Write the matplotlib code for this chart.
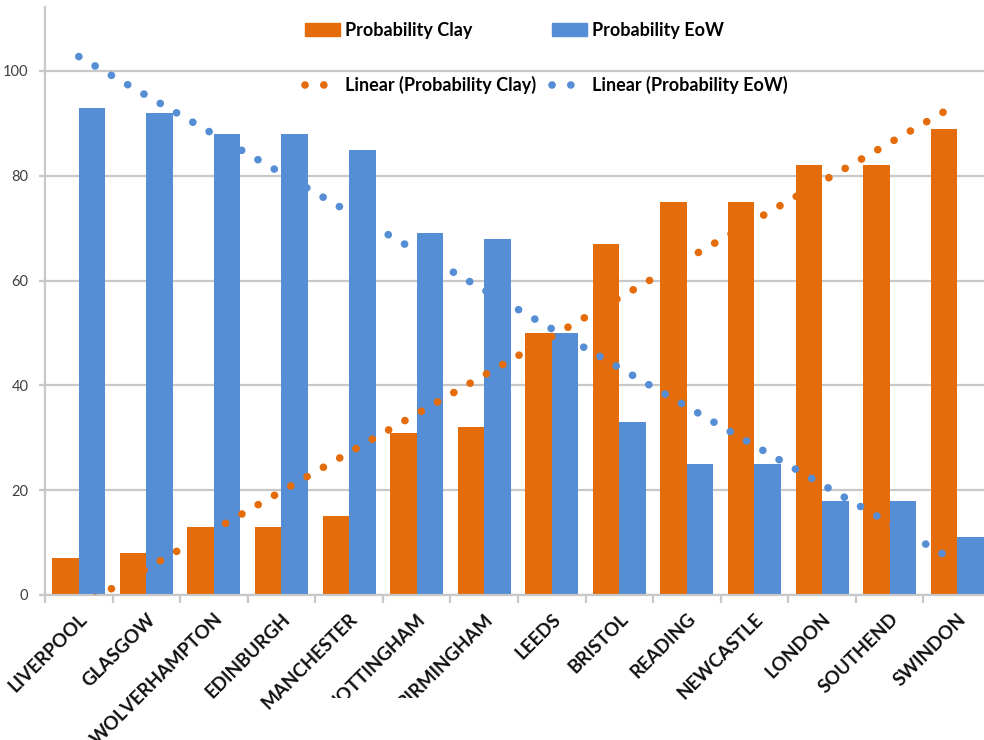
import numpy as np
import matplotlib
matplotlib.use("Agg")
import matplotlib.pyplot as plt
from matplotlib.patches import Patch
from matplotlib.lines import Line2D
from matplotlib.transforms import Bbox, TransformedBbox

# Probability per city
cities = ["LIVERPOOL", "GLASGOW", "WOLVERHAMPTON", "EDINBURGH", "MANCHESTER",
          "NOTTINGHAM", "BIRMINGHAM", "LEEDS", "BRISTOL", "READING",
          "NEWCASTLE", "LONDON", "SOUTHEND", "SWINDON"]
prob_clay = [7, 8, 13, 13, 15, 31, 32, 50, 67, 75, 75, 82, 82, 89]
prob_eow = [93, 92, 88, 88, 85, 69, 68, 50, 33, 25, 25, 18, 18, 11]

orange = "#E46C0A"
blue = "#558ED5"
grid_col = "#C8C8C8"

plt.rcParams["font.family"] = ["Lato", "DejaVu Sans"]

fig = plt.figure(figsize=(9.84, 7.40), dpi=100)
ax = fig.add_axes([45 / 984, 145 / 740, 946 / 984, 588 / 740])

x = np.arange(1, len(cities) + 1)
w = 0.392
ax.bar(x - w / 2, prob_clay, width=w, color=orange, zorder=2)
ax.bar(x + w / 2, prob_eow, width=w, color=blue, zorder=2)

# linear trendlines over the category range
dots = (0, (0.01, 2.45))
for vals, col in [(prob_clay, orange), (prob_eow, blue)]:
    k, b = np.polyfit(x, vals, 1)
    xs = np.array([1, len(cities)])
    ax.plot(xs, k * xs + b, color=col, lw=5.5, linestyle=dots,
            dash_capstyle="round", zorder=3)

ax.set_xlim(0.5, len(cities) + 0.5)
ax.set_ylim(0, 112.2)
ax.set_yticks(range(0, 101, 20))
ax.yaxis.grid(True, color=grid_col, lw=1.6, zorder=0)
ax.set_axisbelow(True)

for s in ["top", "right"]:
    ax.spines[s].set_visible(False)
for s in ["left", "bottom"]:
    ax.spines[s].set_color(grid_col)
    ax.spines[s].set_linewidth(1.6)

# ticks at category boundaries, labels at centres
ax.set_xticks(np.arange(0.5, len(cities) + 1, 1.0))
ax.set_xticklabels([])
ax.set_xticks(x, minor=True)
ax.set_xticklabels(cities, minor=True, rotation=45, ha="right", va="top",
                   rotation_mode="anchor", fontsize=13.5, fontweight="bold",
                   color="#111111")
ax.tick_params(axis="x", which="major", length=6, width=1.6, color=grid_col)
ax.tick_params(axis="x", which="minor", length=0, pad=11)
ax.tick_params(axis="y", length=4, width=1.6, color=grid_col, pad=8,
               labelsize=10.5, labelcolor="#404040")

# two labels get cut off at the bottom of the chart area
clip = TransformedBbox(Bbox([[0, 42 / 740], [1, 1]]), fig.transFigure)
for lbl in ax.get_xticklabels(minor=True):
    if lbl.get_text() in ("NOTTINGHAM", "BIRMINGHAM"):
        lbl.set_clip_on(True)
        lbl.set_clip_box(clip)

handles = [
    Patch(color=orange, label="Probability Clay"),
    Line2D([], [], color=orange, lw=5.5, linestyle=dots, dash_capstyle="round",
           label="Linear (Probability Clay)"),
    Patch(color=blue, label="Probability EoW"),
    Line2D([], [], color=blue, lw=5.5, linestyle=dots, dash_capstyle="round",
           label="Linear (Probability EoW)"),
]
fig.legend(handles=handles, ncol=2, loc="upper left",
           bbox_to_anchor=(305 / 984, 1 - 22 / 740), frameon=False,
           prop={"weight": "bold", "size": 13}, handlelength=1.95,
           handleheight=0.68, handletextpad=0.25, columnspacing=0.9,
           labelspacing=2.05, borderpad=0, borderaxespad=0)

fig.savefig("out.png", dpi=100)
